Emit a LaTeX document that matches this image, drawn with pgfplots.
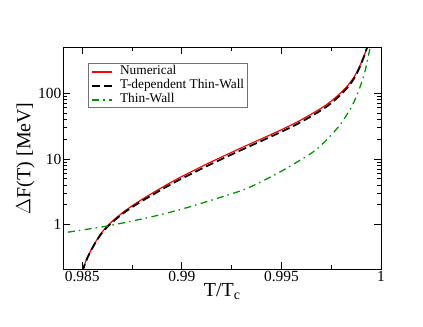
\documentclass[border=0pt]{standalone}
\usepackage{fontspec}
\setmainfont{Liberation Serif}
\usepackage{pgfplots}
\pgfplotsset{compat=1.18}

\definecolor{twgreen}{RGB}{0,150,0}

\begin{document}
\begin{tikzpicture}
\begin{axis}[
    scale only axis,
    width=317.5bp, height=221.5bp,
    xmin=0.98406, xmax=1,
    ymode=log, ymin=0.21, ymax=500,
    xtick={0.985,0.99,0.995,1},
    xticklabels={0.985,0.99,0.995,1},
    minor xtick={0.9875,0.9925,0.9975},
    ytick={1,10,100},
    yticklabels={1,10,100},
    tick align=inside,
    major tick length=7bp,
    minor tick length=4bp,
    every tick/.style={black, line width=0.8bp},
    axis line style={line width=0.9bp},
    ticklabel style={font=\fontsize{15.5}{18}\selectfont},
    /pgf/number format/assume math mode=true,
    xticklabel style={inner sep=2bp},
    yticklabel style={inner sep=2bp},
    xlabel={T/T\textsubscript{c}},
    ylabel={$\Delta$F(T) [MeV]},
    label style={font=\fontsize{20}{22}\selectfont},
    xlabel style={yshift=4bp},
    ylabel style={yshift=-2bp},
    legend cell align=left,
    legend image code/.code={\draw[#1, line width=1.9bp] (0bp,0bp) -- (20bp,0bp);},
    legend style={at={(0.078,0.929)}, anchor=north west,
        draw=black!55, line width=0.8bp,
        font=\fontsize{13.4}{14}\selectfont,
        inner xsep=2.5bp, inner ysep=1bp,
        nodes={inner sep=0.5bp, text height=9.5bp, text depth=3.5bp},
        /tikz/every odd column/.append style={column sep=6.5bp}},
]

% Numerical
\addplot[color=red, draw=red, line width=1.2bp, smooth] coordinates {
    (0.98500,0.19) (0.98503,0.21) (0.98525,0.31) (0.98553,0.46) (0.98590,0.70)
    (0.98629,0.97) (0.98675,1.30) (0.98721,1.67) (0.98780,2.21) (0.98838,2.84)
    (0.98920,3.98) (0.99000,5.40) (0.99130,8.51) (0.99292,14.45) (0.99380,19.05)
    (0.99492,27.2) (0.99580,36.7) (0.99668,51.9) (0.99730,68.4) (0.99769,85.1)
    (0.99800,103.5) (0.99836,135) (0.99865,178) (0.99886,234) (0.99905,316)
    (0.99920,412) (0.99930,507) (0.99937,603)
};

% T-dependent thin wall
\addplot[color=black, draw=black, line width=1.8bp, dash pattern=on 8bp off 4bp, smooth] coordinates {
    (0.98502,0.19) (0.98505,0.21) (0.98525,0.305) (0.98553,0.45) (0.98590,0.685)
    (0.98629,0.94) (0.98675,1.25) (0.98721,1.60) (0.98780,2.10) (0.98838,2.67)
    (0.98920,3.72) (0.99000,5.03) (0.99130,7.9) (0.99292,13.4) (0.99380,17.7)
    (0.99492,25.3) (0.99580,34.1) (0.99668,48.3) (0.99730,63.6) (0.99769,79.5)
    (0.99800,97) (0.99836,127) (0.99865,169) (0.99886,224) (0.99905,306)
    (0.99920,402) (0.99930,500) (0.99937,595)
};

% Thin wall
\addplot[color=twgreen, draw=twgreen, line width=1.3bp, dash pattern=on 7bp off 4bp on 1.5bp off 4.5bp, smooth] coordinates {
    (0.98428,0.765) (0.98625,0.95) (0.98838,1.29) (0.99000,1.72) (0.99150,2.36)
    (0.99308,3.37) (0.99400,4.52) (0.99492,6.31) (0.99626,10.96) (0.99677,14.1)
    (0.99730,20.0) (0.99794,33.1) (0.99853,63.1) (0.99894,123) (0.99920,219)
    (0.99936,363) (0.99948,550)
};

\legend{Numerical, T-dependent Thin-Wall, Thin-Wall}
\end{axis}
\path (current axis.south west) ++(-63.5bp,-58bp);
\path (current axis.north east) ++(42bp,47.5bp);
\end{tikzpicture}
\end{document}
